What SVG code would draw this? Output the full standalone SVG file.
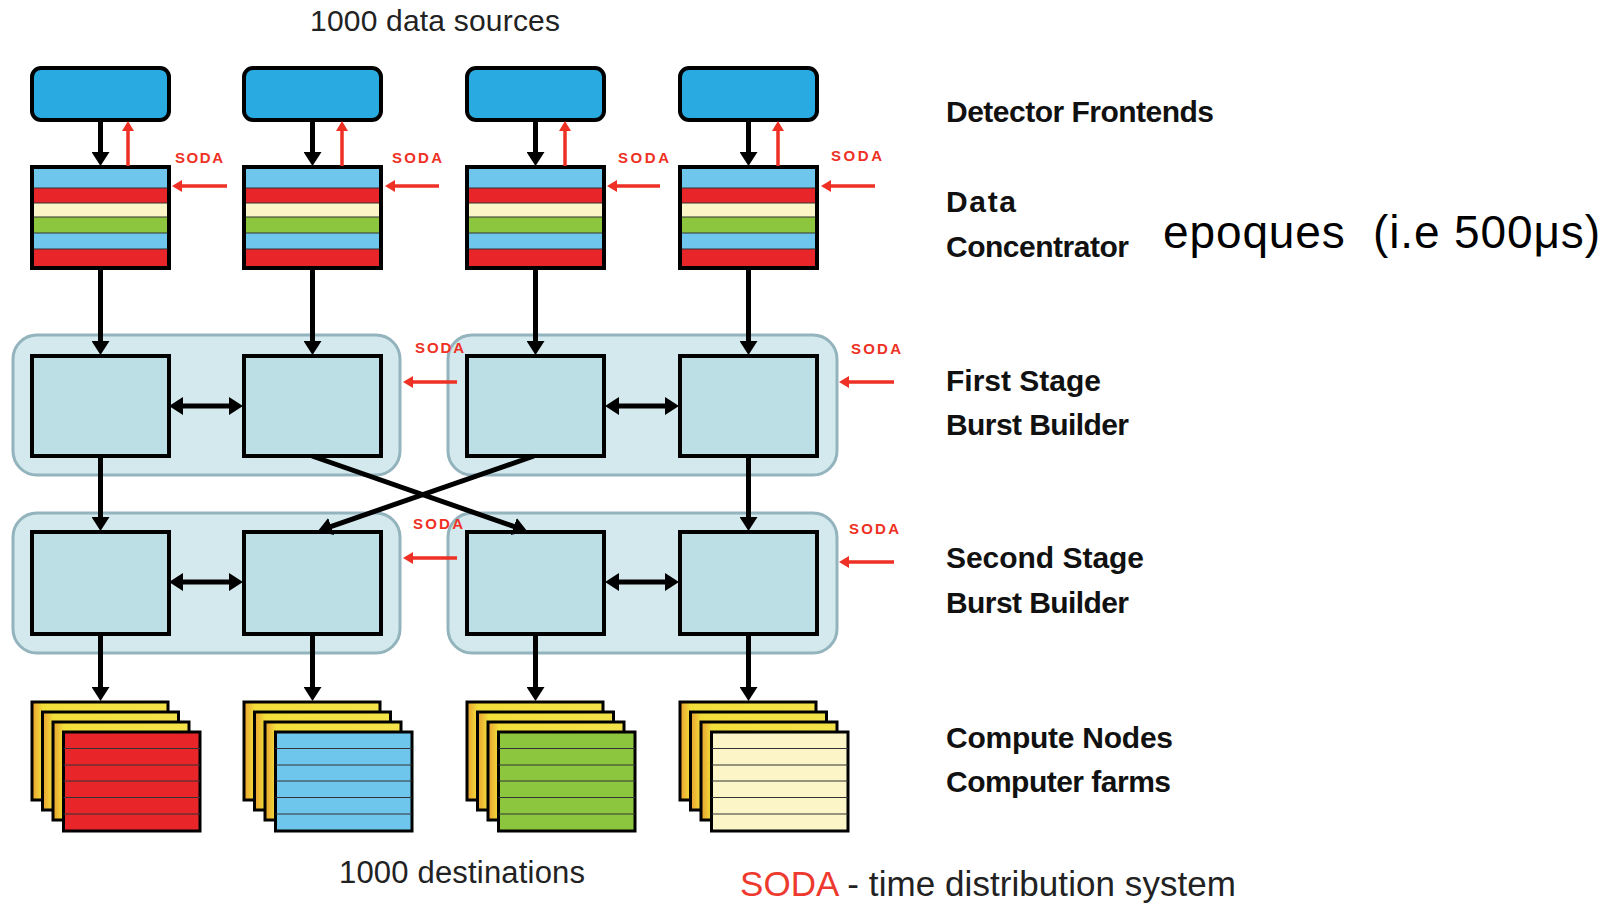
<svg xmlns="http://www.w3.org/2000/svg" xmlns:xlink="http://www.w3.org/1999/xlink" width="1618" height="906" viewBox="0 0 1618 906">
<style>
.blk{stroke:#000;stroke-width:5;fill:none;marker-end:url(#ah)}
.dbl{stroke:#000;stroke-width:5;fill:none;marker-start:url(#ah);marker-end:url(#ah)}
.red{stroke:#ee3124;stroke-width:3.5;fill:none;marker-end:url(#rh)}
.fe{fill:#29abe2;stroke:#000;stroke-width:4}
.box{fill:#bcdfe5;stroke:#000;stroke-width:4}
.grp{fill:#d4e9ee;stroke:#93b3bd;stroke-width:3}
.frame{fill:none;stroke:#000;stroke-width:4}
.sep{stroke:#333;stroke-width:1.2}
.card{fill:url(#yel);stroke:#000;stroke-width:3}
.lbl{font-family:"Liberation Sans",Arial,sans-serif;font-weight:bold;font-size:30px;fill:#111}
.soda{font-family:"Liberation Sans",Arial,sans-serif;font-weight:bold;font-size:15px;fill:#ee3124}
.cap{font-family:"Liberation Sans",Arial,sans-serif;font-size:31px;fill:#222}
</style>
<defs>
<marker id="ah" markerUnits="userSpaceOnUse" markerWidth="16" markerHeight="18" refX="2" refY="9" orient="auto-start-reverse"><path d="M0,0 L14,9 L0,18 z" fill="#000"/></marker>
<marker id="rh" markerUnits="userSpaceOnUse" markerWidth="12" markerHeight="12" refX="2" refY="6" orient="auto-start-reverse"><path d="M0,0 L10,6 L0,12 z" fill="#ee3124"/></marker>
<linearGradient id="yel" x1="0" y1="0" x2="1" y2="0"><stop offset="0" stop-color="#e8a030"/><stop offset="0.08" stop-color="#f3df3a"/><stop offset="1" stop-color="#f3e24a"/></linearGradient>
<g id="dc">
<rect x="0" y="169" width="137" height="19" fill="#6ec6ec"/>
<rect x="0" y="188" width="137" height="15" fill="#e8262a"/>
<rect x="0" y="203" width="137" height="14" fill="#fbf5c8"/>
<rect x="0" y="217" width="137" height="16" fill="#8cc63f"/>
<rect x="0" y="233" width="137" height="16" fill="#6ec6ec"/>
<rect x="0" y="249" width="137" height="18" fill="#e8262a"/>
<path class="sep" d="M0,188H137M0,203H137M0,217H137M0,233H137M0,249H137"/>
<rect class="frame" x="0" y="167" width="137" height="101"/>
</g>
<g id="cards">
<rect class="card" x="0" y="702" width="136" height="98"/>
<rect class="card" x="10.5" y="712" width="136" height="98"/>
<rect class="card" x="21" y="722" width="136" height="98"/>
</g>
<path id="cl" class="sep" d="M31.5,748.5H168M31.5,765H168M31.5,781H168M31.5,797.5H168M31.5,814H168" stroke-width="1.5"/>
</defs>
<rect width="1618" height="906" fill="#fff"/>

<!-- groups for burst builders -->
<g id="fs-group-left"><rect class="grp" x="13" y="335" width="387" height="140" rx="24"/></g>
<g id="fs-group-right"><rect class="grp" x="448" y="335" width="389" height="140" rx="24"/></g>
<g id="ss-group-left"><rect class="grp" x="13" y="513" width="387" height="140" rx="24"/></g>
<g id="ss-group-right"><rect class="grp" x="448" y="513" width="389" height="140" rx="24"/></g>

<!-- detector frontends -->
<g id="fe1"><rect class="fe" x="32" y="68" width="137" height="52" rx="9"/></g>
<g id="fe2"><rect class="fe" x="244" y="68" width="137" height="52" rx="9"/></g>
<g id="fe3"><rect class="fe" x="467" y="68" width="137" height="52" rx="9"/></g>
<g id="fe4"><rect class="fe" x="680" y="68" width="137" height="52" rx="9"/></g>

<!-- data concentrators -->
<g id="dc1"><use xlink:href="#dc" x="32"/></g>
<g id="dc2"><use xlink:href="#dc" x="244"/></g>
<g id="dc3"><use xlink:href="#dc" x="467"/></g>
<g id="dc4"><use xlink:href="#dc" x="680"/></g>

<!-- first stage burst builders -->
<g id="fs1"><rect class="box" x="32" y="356" width="137" height="100"/></g>
<g id="fs2"><rect class="box" x="244" y="356" width="137" height="100"/></g>
<g id="fs3"><rect class="box" x="467" y="356" width="137" height="100"/></g>
<g id="fs4"><rect class="box" x="680" y="356" width="137" height="100"/></g>

<!-- second stage burst builders -->
<g id="ss1"><rect class="box" x="32" y="532" width="137" height="102"/></g>
<g id="ss2"><rect class="box" x="244" y="532" width="137" height="102"/></g>
<g id="ss3"><rect class="box" x="467" y="532" width="137" height="102"/></g>
<g id="ss4"><rect class="box" x="680" y="532" width="137" height="102"/></g>

<!-- compute nodes -->
<g id="cn1"><use xlink:href="#cards" x="32"/><rect x="63.5" y="732" width="136.5" height="99" fill="#e8262a" stroke="#000" stroke-width="3"/><use xlink:href="#cl" x="32"/></g>
<g id="cn2"><use xlink:href="#cards" x="244"/><rect x="275.5" y="732" width="136.5" height="99" fill="#6ec6ec" stroke="#000" stroke-width="3"/><use xlink:href="#cl" x="244"/></g>
<g id="cn3"><use xlink:href="#cards" x="467"/><rect x="498.5" y="732" width="136.5" height="99" fill="#8cc63f" stroke="#000" stroke-width="3"/><use xlink:href="#cl" x="467"/></g>
<g id="cn4"><use xlink:href="#cards" x="680"/><rect x="711.5" y="732" width="136.5" height="99" fill="#fbf5c8" stroke="#000" stroke-width="3"/><use xlink:href="#cl" x="680"/></g>

<!-- connectors -->
<g id="connectors">
<path class="blk" d="M100.5,120V154"/>
<path class="blk" d="M312.5,120V154"/>
<path class="blk" d="M535.5,120V154"/>
<path class="blk" d="M748.5,120V154"/>
<path class="red" d="M128,166V129"/>
<path class="red" d="M342,166V129"/>
<path class="red" d="M565,166V129"/>
<path class="red" d="M778,166V129"/>
<path class="blk" d="M100.5,268V343"/>
<path class="blk" d="M312.5,268V343"/>
<path class="blk" d="M535.5,268V343"/>
<path class="blk" d="M748.5,268V343"/>
<path class="dbl" d="M181,406H231"/>
<path class="dbl" d="M617,406H667"/>
<path class="dbl" d="M181,582H231"/>
<path class="dbl" d="M617,582H667"/>
<path class="blk" d="M100.5,456V519"/>
<path class="blk" d="M748.5,456V519"/>
<path class="blk" d="M312,456L515.7,527.1"/>
<path class="blk" d="M534,456L329.3,527.1"/>
<path class="blk" d="M100.5,634V689"/>
<path class="blk" d="M312.5,634V689"/>
<path class="blk" d="M535.5,634V689"/>
<path class="blk" d="M748.5,634V689"/>
<path class="red" d="M227,186H180"/>
<path class="red" d="M439,186H393"/>
<path class="red" d="M660,186H615"/>
<path class="red" d="M875,186H829"/>
<path class="red" d="M457,382H411"/>
<path class="red" d="M894,382H847"/>
<path class="red" d="M457,558H411"/>
<path class="red" d="M894,562H847"/>
</g>

<!-- SODA small labels -->
<g id="soda-labels">
<text class="soda" x="175" y="163" textLength="48">SODA</text>
<text class="soda" x="392" y="163" textLength="50">SODA</text>
<text class="soda" x="618" y="163" textLength="51">SODA</text>
<text class="soda" x="831" y="161" textLength="51">SODA</text>
<text class="soda" x="415" y="353" textLength="49">SODA</text>
<text class="soda" x="851" y="354" textLength="50">SODA</text>
<text class="soda" x="413" y="529" textLength="50">SODA</text>
<text class="soda" x="849" y="534" textLength="50">SODA</text>
</g>

<!-- captions -->
<g id="captions">
<text class="cap" x="310" y="31" style="font-size:30px" textLength="250">1000 data sources</text>
<text class="cap" x="339" y="883" textLength="246">1000 destinations</text>
<text class="cap" x="740" y="896" style="font-size:35px" textLength="496"><tspan fill="#ee3a2e">SODA</tspan> - time distribution system</text>
<text class="lbl" x="946" y="122" textLength="268">Detector Frontends</text>
<text class="lbl" x="946" y="212" textLength="70">Data</text>
<text class="lbl" x="946" y="257" textLength="183">Concentrator</text>
<text x="1163" y="248" font-family="Liberation Sans, Arial, sans-serif" font-size="46" fill="#000" textLength="437">epoques&#160; (i.e 500μs)</text>
<text class="lbl" x="946" y="391" textLength="155">First Stage</text>
<text class="lbl" x="946" y="435" textLength="183">Burst Builder</text>
<text class="lbl" x="946" y="568" textLength="198">Second Stage</text>
<text class="lbl" x="946" y="613" textLength="183">Burst Builder</text>
<text class="lbl" x="946" y="748" textLength="227">Compute Nodes</text>
<text class="lbl" x="946" y="792" textLength="225">Computer farms</text>
</g>
</svg>
